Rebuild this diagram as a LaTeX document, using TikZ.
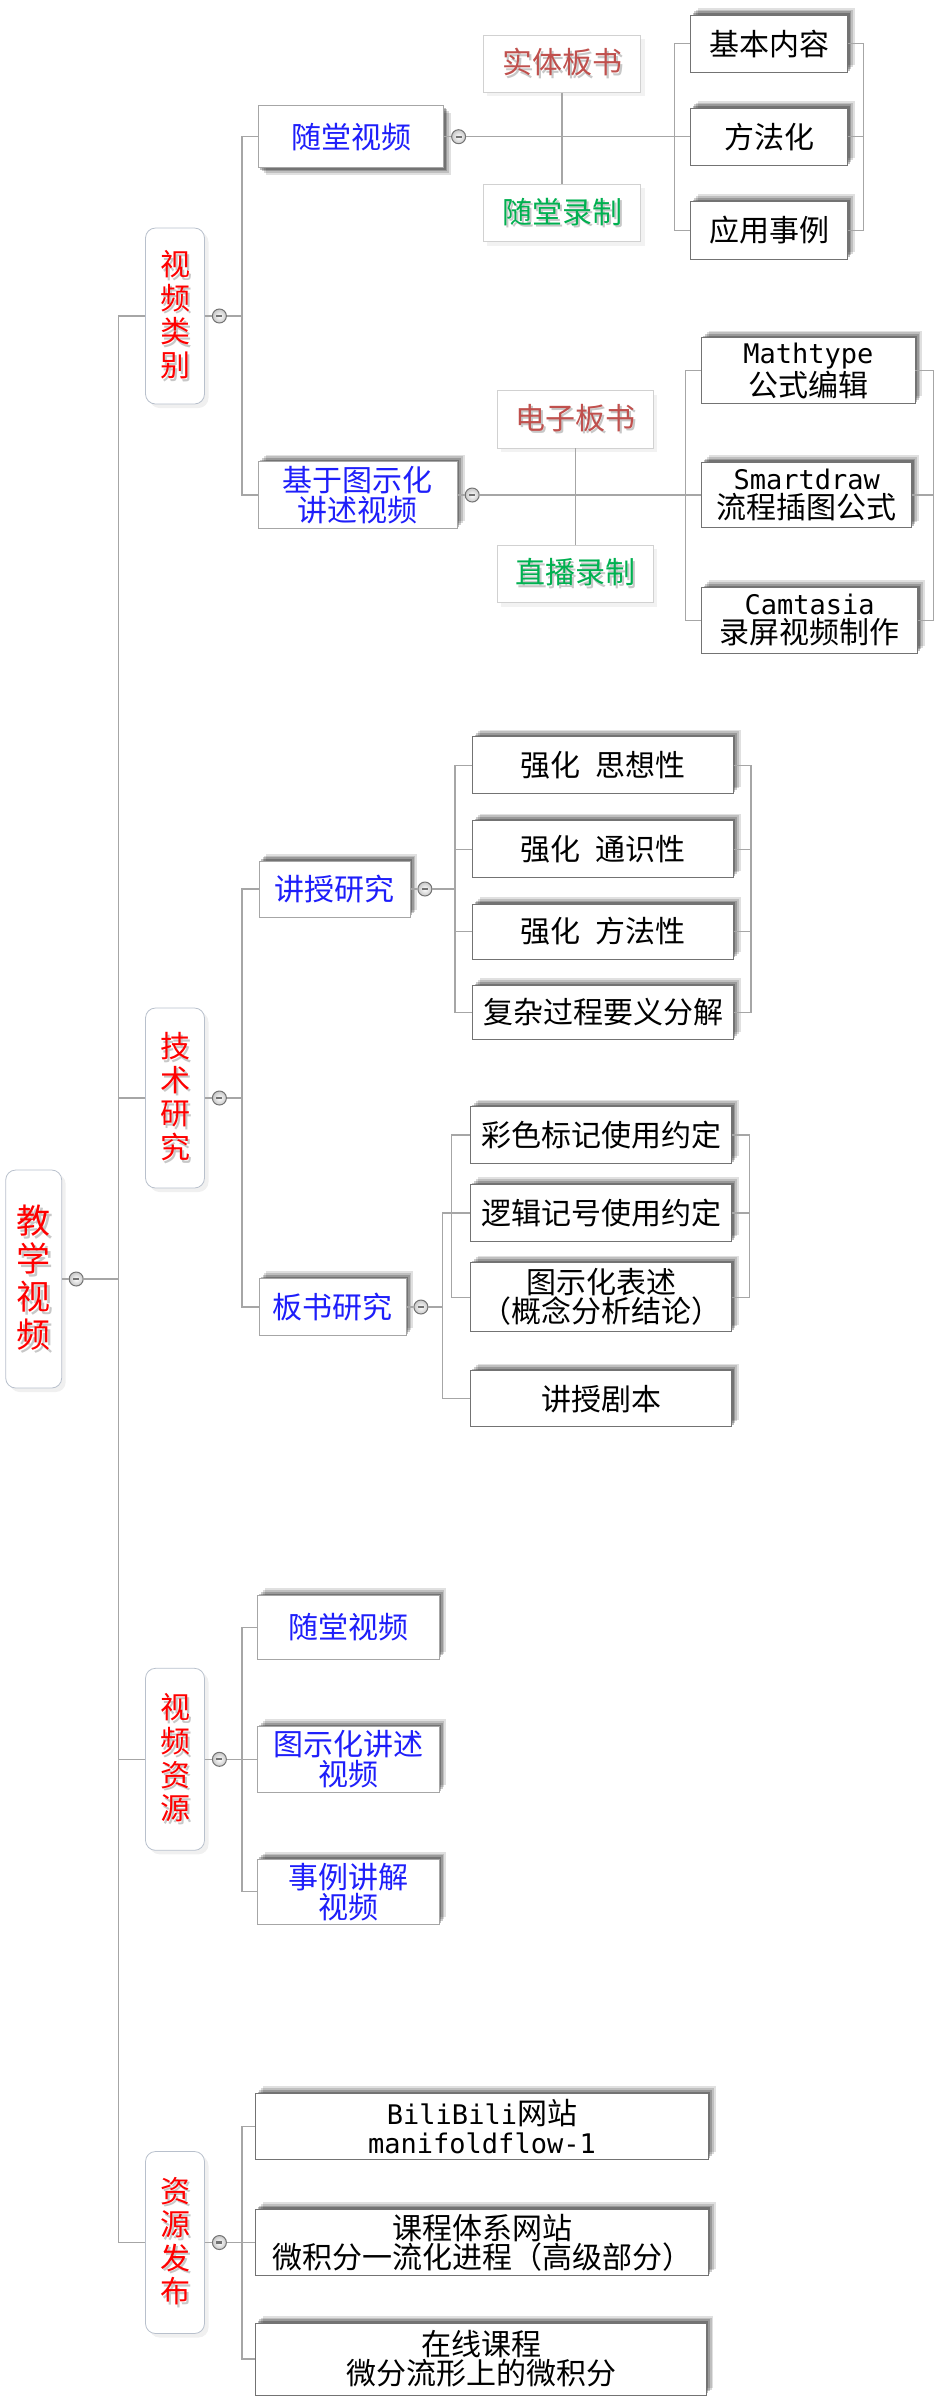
\documentclass[tikz,border=0pt]{standalone}
\usepackage{fontspec}
\setmainfont{Noto Sans CJK SC}
\newfontfamily\latmono[Scale=0.9]{DejaVu Sans Mono}
\usetikzlibrary{positioning}
\usetikzlibrary{shadows}
\usetikzlibrary{calc}
\definecolor{topicblue}{RGB}{30,30,250}
\definecolor{notebrown}{RGB}{192,80,77}
\definecolor{notegreen}{RGB}{0,176,80}
\definecolor{linkgray}{RGB}{166,166,166}
\definecolor{rimgray}{RGB}{184,192,204}
\newcommand{\shd}[1]{\leavevmode\rlap{\hspace{1.3pt}\raisebox{-1.3pt}{\textcolor{black!22}{#1}}}#1}
\tikzset{
  link/.style={draw=linkgray, line width=0.6pt},
  cat/.style={draw=rimgray, fill=white, rounded corners=5pt, text=red, align=center, inner sep=0pt,
    minimum width=29.5pt, font=\fontsize{15}{16.8}\selectfont,
    drop shadow={shadow xshift=2pt, shadow yshift=-2pt, opacity=0.12}},
  root/.style={cat, minimum width=28pt, font=\fontsize{17}{19}\selectfont},
  boxshadow/.style={
    drop shadow={shadow xshift=3.6pt, shadow yshift=3.6pt, opacity=0.12, fill=black},
    drop shadow={shadow xshift=2.7pt, shadow yshift=2.7pt, opacity=0.15, fill=black},
    drop shadow={shadow xshift=1.8pt, shadow yshift=1.8pt, opacity=0.2, fill=black},
    drop shadow={shadow xshift=0.9pt, shadow yshift=0.9pt, opacity=0.25, fill=black}},
  topic/.style={draw=black!35, fill=white, text=topicblue, align=center, inner sep=0pt,
    font=\fontsize{15}{15}\selectfont, boxshadow},
  topicdown/.style={draw=black!35, fill=white, text=topicblue, align=center, inner sep=0pt,
    font=\fontsize{15}{15}\selectfont,
    drop shadow={shadow xshift=3.6pt, shadow yshift=-3.6pt, opacity=0.12, fill=black},
    drop shadow={shadow xshift=2.7pt, shadow yshift=-2.7pt, opacity=0.15, fill=black},
    drop shadow={shadow xshift=1.8pt, shadow yshift=-1.8pt, opacity=0.2, fill=black},
    drop shadow={shadow xshift=0.9pt, shadow yshift=-0.9pt, opacity=0.25, fill=black}},
  leaf/.style={draw=black!55, fill=white, text=black, align=center, inner sep=0pt,
    font=\fontsize{15}{14.5}\selectfont, boxshadow},
  note/.style={draw=black!18, fill=white, align=center, inner sep=0pt,
    minimum height=28.7pt, font=\fontsize{15}{15}\selectfont,
    drop shadow={shadow xshift=2pt, shadow yshift=-2pt, opacity=0.1}},
  fold/.style={circle, draw=black!55, line width=0.5pt, inner sep=0pt, minimum size=7pt,
    inner color=white, outer color=black!22,
    path picture={\draw[line width=1.1pt] ([xshift=-1.5pt]path picture bounding box.center) -- ([xshift=1.5pt]path picture bounding box.center);}}
}
\begin{document}
\begin{tikzpicture}[x=0.5pt, y=-0.5pt]
\useasboundingbox (0,0) rectangle (948,2400);
% bracket lines
\coordinate (lbA) at (674.3,0);
\coordinate (rbA) at (863.3,0);
\coordinate (lbB) at (685.7,0);
\coordinate (rbB) at (933.3,0);
\coordinate (lbC) at (455,0);
\coordinate (rbC) at (751,0);
\coordinate (lbD) at (442.3,0);
\coordinate (lbE) at (451.7,0);
\coordinate (rbD) at (749.3,0);

% root and main branches
\node[root, minimum height=109pt] (jxsp) at (33.7,1279) {\shd{教}\\\shd{学}\\\shd{视}\\\shd{频}};
\node[fold, right=3.3pt of jxsp] (fjxsp) {};
\node[cat, minimum height=88pt] (splb) at (175,316) {\shd{视}\\\shd{频}\\\shd{类}\\\shd{别}};
\node[cat, minimum height=90pt] (jsyj) at (175,1098) {\shd{技}\\\shd{术}\\\shd{研}\\\shd{究}};
\node[cat, minimum height=91pt] (spzy) at (175,1759.3) {\shd{视}\\\shd{频}\\\shd{资}\\\shd{源}};
\node[cat, minimum height=91pt] (zyfb) at (175,2242.5) {\shd{资}\\\shd{源}\\\shd{发}\\\shd{布}};
\node[fold, right=3.5pt of splb] (fsplb) {};
\node[fold, right=3.5pt of jsyj] (fjsyj) {};
\node[fold, right=3.5pt of spzy] (fspzy) {};
\node[fold, right=3.5pt of zyfb] (fzyfb) {};

% trunk
\draw[link] (jxsp.east) -- (fjxsp.west);
\draw[link] (fjxsp.east) -- ++(17.5pt,0) coordinate (trunk);
\draw[link] (splb.west) -| (trunk) |- (zyfb.west);
\draw[link] (jsyj.west) -- (jsyj.west -| trunk);
\draw[link] (spzy.west) -- (spzy.west -| trunk);
\foreach \n in {splb,jsyj,spzy,zyfb} \draw[link] (\n.east) -- (f\n.west);

% video types
\node[topicdown, minimum width=92.7pt, minimum height=31pt] (stsp) at (351,136.7) {随堂视频};
\node[topic, minimum width=99.5pt, minimum height=33.3pt] (txjs) at (357.8,495) {基于图示化\\讲述视频};
\node[fold, right=3.5pt of stsp] (fstsp) {};
\node[fold, right=3.5pt of txjs] (ftxjs) {};
\draw[link] (stsp.east) -- (fstsp.west);
\draw[link] (txjs.east) -- (ftxjs.west);
\draw[link] (fsplb.east) -- ++(7.5pt,0) coordinate (b1) |- (stsp.west);
\draw[link] (b1) |- (txjs.west);

\node[note, text=notebrown, minimum width=78.7pt] (stbs) at (562,63.6) {\shd{实体板书}};
\node[note, text=notegreen, minimum width=78.7pt] (stlz) at (562,213) {\shd{随堂录制}};
\draw[link] (stbs.south) -- (stlz.north);
\node[leaf, minimum width=78.5pt, minimum height=28.7pt] (jbnr) at (769.2,43.7) {基本内容};
\node[leaf, minimum width=78.5pt, minimum height=28.7pt] (ffh) at (769.2,136.7) {方法化};
\node[leaf, minimum width=78.5pt, minimum height=28.7pt] (yysl) at (769.2,230.3) {应用事例};
\draw[link] (fstsp.east) -- (ffh.west);
\draw[link] (jbnr.west) -| (lbA |- yysl.west) -- (yysl.west);
\draw[link] (jbnr.east) -| (rbA |- yysl.east) -- (yysl.east);
\draw[link] (ffh.east) -- (ffh.east -| rbA);

\node[note, text=notebrown, minimum width=78pt] (dzbs) at (575.3,419.3) {\shd{电子板书}};
\node[note, text=notegreen, minimum width=78pt] (zblz) at (575.3,573.8) {\shd{直播录制}};
\draw[link] (dzbs.south) -- (zblz.north);
\node[leaf, minimum width=106.7pt, minimum height=32.8pt] (mtyp) at (808.3,370.5) {{\latmono Mathtype}\\公式编辑};
\node[leaf, minimum width=105pt, minimum height=32.8pt] (sdrw) at (806.7,495) {{\latmono Smartdraw}\\流程插图公式};
\node[leaf, minimum width=108pt, minimum height=32.8pt] (ctsa) at (809.7,620.2) {{\latmono Camtasia}\\录屏视频制作};
\draw[link] (ftxjs.east) -- (sdrw.west);
\draw[link] (mtyp.west) -| (lbB |- ctsa.west) -- (ctsa.west);
\draw[link] (mtyp.east) -| (rbB |- ctsa.east) -- (ctsa.east);
\draw[link] (sdrw.east) -- (sdrw.east -| rbB);

% technique research
\node[topic, minimum width=75.5pt, minimum height=28pt] (jsyy) at (334.5,889) {讲授研究};
\node[topic, minimum width=73.5pt, minimum height=28.5pt] (bsyj) at (332.5,1307) {板书研究};
\node[fold, right=3.5pt of jsyy] (fjsyy) {};
\node[fold, right=3.5pt of bsyj] (fbsyj) {};
\draw[link] (jsyy.east) -- (fjsyy.west);
\draw[link] (bsyj.east) -- (fbsyj.west);
\draw[link] (fjsyj.east) -- ++(7.5pt,0) coordinate (b2) |- (jsyy.west);
\draw[link] (b2) |- (bsyj.west);

\node[leaf, minimum width=130.3pt, minimum height=28.5pt] (sxx) at (603,765.3) {强化\hspace{0.5em}思想性};
\node[leaf, minimum width=130.3pt, minimum height=28.5pt] (tsx) at (603,849.2) {强化\hspace{0.5em}通识性};
\node[leaf, minimum width=130.3pt, minimum height=27.5pt] (ffx) at (603,931.6) {强化\hspace{0.5em}方法性};
\node[leaf, minimum width=130.3pt, minimum height=27pt] (fzgc) at (603,1012.5) {复杂过程要义分解};
\draw[link] (fjsyy.east) -- (fjsyy.east -| lbC);
\draw[link] (sxx.west) -| (lbC |- fzgc.west) -- (fzgc.west);
\draw[link] (sxx.east) -| (rbC |- fzgc.east) -- (fzgc.east);
\foreach \n in {tsx,ffx} {
  \draw[link] (\n.west) -- (\n.west -| lbC);
  \draw[link] (\n.east) -- (\n.east -| rbC);
}

\node[leaf, minimum width=130.7pt, minimum height=28.3pt] (csbj) at (601,1135) {彩色标记使用约定};
\node[leaf, minimum width=130.7pt, minimum height=28.7pt] (ljjh) at (601,1213) {逻辑记号使用约定};
\node[leaf, minimum width=130.7pt, minimum height=34.5pt] (txbs) at (601,1297.2) {图示化表述\\（概念分析结论）};
\node[leaf, minimum width=130.7pt, minimum height=28pt] (jsjb) at (601,1398.7) {讲授剧本};
\draw[link] (fbsyj.east) -- (fbsyj.east -| lbD);
\draw[link] (ljjh.west) -- (ljjh.west -| lbD) -- (jsjb.west -| lbD) -- (jsjb.west);
\draw[link] (csbj.west) -| (lbE |- txbs.west) -- (txbs.west);
\draw[link] (csbj.east) -| (rbD |- txbs.east) -- (txbs.east);
\draw[link] (ljjh.east) -- (ljjh.east -| rbD);

% video resources
\node[topic, minimum width=90.8pt, minimum height=31.7pt] (zystsp) at (348.2,1627.3) {随堂视频};
\node[topic, minimum width=90.8pt, minimum height=33pt] (zytxh) at (348.2,1759.3) {图示化讲述\\视频};
\node[topic, minimum width=90.8pt, minimum height=32.7pt] (zysl) at (348.2,1891.7) {事例讲解\\视频};
\draw[link] (fspzy.east) -- ++(7.5pt,0) coordinate (b3) |- (zystsp.west);
\draw[link] (b3) |- (zysl.west);
\draw[link] (b3) -- (zytxh.west);

% publishing
\node[leaf, minimum width=226.3pt, minimum height=33pt] (bili) at (482,2126.3) {{\latmono BiliBili}网站\\{\latmono manifoldflow-1}};
\node[leaf, minimum width=226.3pt, minimum height=33.3pt] (kctx) at (482,2242.5) {课程体系网站\\微积分一流化进程（高级部分）};
\node[leaf, minimum width=225.2pt, minimum height=36pt] (zxkc) at (481,2358.9) {在线课程\\微分流形上的微积分};
\draw[link] (fzyfb.east) -- ++(7.5pt,0) coordinate (b4) |- (bili.west);
\draw[link] (b4) |- (zxkc.west);
\draw[link] (b4) -- (kctx.west);
\end{tikzpicture}
\end{document}
